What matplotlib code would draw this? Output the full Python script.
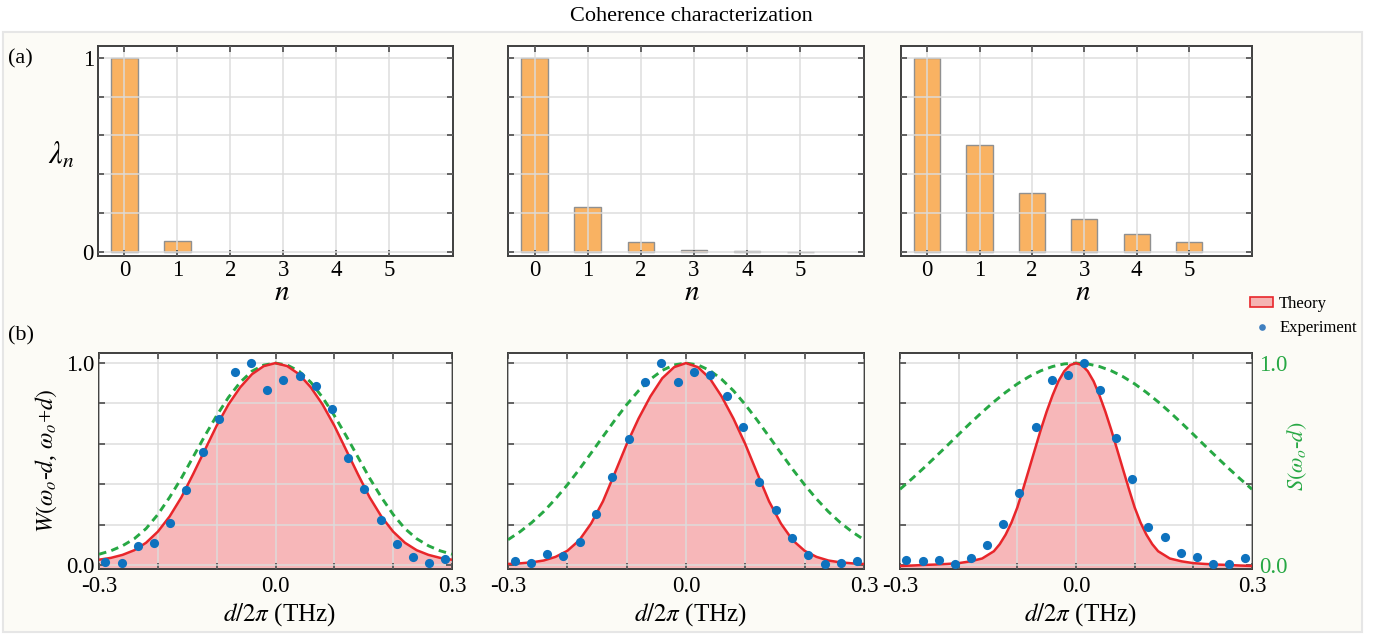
import matplotlib
matplotlib.use("Agg")
import matplotlib.pyplot as plt
from matplotlib.patches import Rectangle, Patch
from matplotlib.lines import Line2D

plt.rcParams["font.family"] = ["Liberation Serif", "DejaVu Serif"]
plt.rcParams["mathtext.fontset"] = "stix"

# ---------------- data ----------------
modes = [0, 1, 2, 3, 4, 5]
lambda_a = [1.0, 0.058, 0.0, 0.0, 0.0, 0.0]
lambda_b = [1.0, 0.230, 0.051, 0.012, 0.005, 0.003]
lambda_c = [1.0, 0.551, 0.306, 0.168, 0.093, 0.051]

d_theory = [-0.30, -0.28, -0.26, -0.24, -0.22, -0.20, -0.18, -0.16, -0.14, -0.12,
            -0.10, -0.08, -0.06, -0.04, -0.02, 0.00, 0.02, 0.04, 0.06, 0.08,
            0.10, 0.12, 0.14, 0.16, 0.18, 0.20, 0.22, 0.24, 0.26, 0.28, 0.30]
# finer sampling around the narrow peak of the third case
d_theory_c = [-0.30, -0.28, -0.26, -0.24, -0.22, -0.20, -0.18, -0.16, -0.14,
              -0.13, -0.12, -0.11, -0.10, -0.09, -0.08, -0.07, -0.06, -0.05, -0.04,
              -0.03, -0.02, -0.01, 0.00, 0.01, 0.02, 0.03, 0.04, 0.05, 0.06, 0.07,
              0.08, 0.09, 0.10, 0.11, 0.12, 0.13,
              0.14, 0.16, 0.18, 0.20, 0.22, 0.24, 0.26, 0.28, 0.30]

theory_a = [0.026, 0.035, 0.050, 0.073, 0.110, 0.165, 0.240, 0.335, 0.450, 0.570,
            0.690, 0.795, 0.880, 0.945, 0.985, 1.000, 0.985, 0.945, 0.880, 0.795,
            0.690, 0.570, 0.450, 0.335, 0.240, 0.165, 0.110, 0.073, 0.050, 0.035, 0.026]
theory_b = [0.005, 0.008, 0.013, 0.022, 0.040, 0.070, 0.122, 0.205, 0.315, 0.455,
            0.598, 0.725, 0.835, 0.925, 0.980, 1.000, 0.980, 0.925, 0.835, 0.725,
            0.598, 0.455, 0.315, 0.205, 0.122, 0.070, 0.040, 0.022, 0.013, 0.008, 0.005]
theory_c = [-0.005, -0.003, 0.000, 0.002, 0.005, 0.009, 0.018, 0.032, 0.068,
            0.103, 0.150, 0.210, 0.285, 0.378, 0.475, 0.573, 0.670, 0.760, 0.840,
            0.910, 0.960, 0.990, 1.000, 0.990, 0.960, 0.910, 0.840, 0.760, 0.670, 0.573,
            0.475, 0.378, 0.285, 0.210, 0.150, 0.103,
            0.068, 0.032, 0.018, 0.009, 0.005, 0.002, 0.000, -0.003, -0.005]

spectrum_a = [0.053, 0.070, 0.095, 0.130, 0.180, 0.250, 0.335, 0.430, 0.535, 0.640,
              0.740, 0.830, 0.905, 0.960, 0.990, 1.000, 0.990, 0.960, 0.905, 0.830,
              0.740, 0.640, 0.535, 0.430, 0.335, 0.250, 0.180, 0.130, 0.095, 0.070, 0.053]
spectrum_b = [0.125, 0.164, 0.210, 0.264, 0.327, 0.397, 0.473, 0.554, 0.636, 0.717,
              0.794, 0.863, 0.920, 0.964, 0.991, 1.000, 0.991, 0.964, 0.920, 0.863,
              0.794, 0.717, 0.636, 0.554, 0.473, 0.397, 0.327, 0.264, 0.210, 0.164, 0.125]
spectrum_c = [0.375, 0.426, 0.479, 0.534, 0.590, 0.647, 0.703, 0.757, 0.808, 0.855,
              0.897, 0.933, 0.962, 0.983, 0.996, 1.000, 0.996, 0.983, 0.962, 0.933,
              0.897, 0.855, 0.808, 0.757, 0.703, 0.647, 0.590, 0.534, 0.479, 0.426, 0.375]

d_exp = [-0.289, -0.2615, -0.234, -0.2065, -0.179, -0.1515, -0.124, -0.0965, -0.069, -0.0415,
         -0.014, 0.0135, 0.041, 0.0685, 0.096, 0.1235, 0.151, 0.1785, 0.206, 0.2335,
         0.261, 0.2885]
exp_a = [0.013, 0.012, 0.096, 0.111, 0.207, 0.372, 0.560, 0.725, 0.957, 1.000,
         0.868, 0.914, 0.937, 0.887, 0.775, 0.532, 0.378, 0.223, 0.106, 0.041,
         0.012, 0.030]
exp_b = [0.018, 0.011, 0.053, 0.045, 0.113, 0.254, 0.436, 0.623, 0.904, 1.000,
         0.907, 0.957, 0.943, 0.837, 0.683, 0.413, 0.272, 0.132, 0.051, 0.006,
         0.008, 0.018]
exp_c = [0.023, 0.022, 0.027, 0.007, 0.035, 0.101, 0.201, 0.355, 0.683, 0.915,
         0.943, 1.000, 0.869, 0.631, 0.424, 0.189, 0.140, 0.058, 0.037, 0.003,
         0.003, 0.035]

bar_sets = [lambda_a, lambda_b, lambda_c]
theory_x_sets = [d_theory, d_theory, d_theory_c]
theory_sets = [theory_a, theory_b, theory_c]
spectrum_sets = [spectrum_a, spectrum_b, spectrum_c]
exp_sets = [exp_a, exp_b, exp_c]

# ---------------- style ----------------
W, H = 1396, 635
BAR = "#F9B262"
BAR_EDGE = "#909090"
RED = "#E8262B"
PINK = (0.91, 0.15, 0.17, 0.33)
BLUE = "#0E72BE"
GREEN = "#27A844"
SPINE = "#3F3F3F"
TICK_FS = 16.5

fig = plt.figure(figsize=(W / 100, H / 100), dpi=100)
fig.patch.set_facecolor("white")
panel_bg = Rectangle((3 / W, 1 - 632 / H), 1359 / W, 600 / H,
                     transform=fig.transFigure, facecolor="#FCFBF6",
                     edgecolor="#E6E6E6", linewidth=1.5, zorder=-10)
fig.add_artist(panel_bg)


def px_rect(x0, y0, x1, y1):
    return [x0 / W, 1 - y1 / H, (x1 - x0) / W, (y1 - y0) / H]


def style_axes(ax):
    ax.set_facecolor("white")
    for s in ax.spines.values():
        s.set_color(SPINE)
        s.set_linewidth(1.4)
    ax.tick_params(direction="in", top=True, right=True, length=4, width=1.1,
                   color=SPINE, labelsize=TICK_FS, pad=3)
    ax.set_axisbelow(False)
    ax.grid(True, color="#DCDCDC", alpha=0.75, linewidth=1.4)


top_boxes = [(98, 46, 453, 256), (508, 46, 864, 256), (901, 46, 1252, 256)]
bot_boxes = [(99, 353, 452, 569), (508, 353, 864, 569), (900, 353, 1252, 569)]

# top row: mode weights
for i, box in enumerate(top_boxes):
    ax = fig.add_axes(px_rect(*box))
    style_axes(ax)
    values = bar_sets[i]
    edges = [BAR_EDGE if v > 0 else "none" for v in values]
    ax.bar(modes, values, width=0.5, color=BAR, edgecolor=edges,
           linewidth=1.0, zorder=1)
    ax.set_xlim(-0.5, 6.2)
    ax.set_ylim(-0.02, 1.06)
    ax.set_xticks(modes)
    ax.set_xticklabels([str(m) for m in modes])
    ax.set_yticks([0, 0.2, 0.4, 0.6, 0.8, 1.0])
    ax.tick_params(axis="x", pad=3)
    if i == 0:
        ax.set_yticklabels(["0", "", "", "", "", "1"])
    else:
        ax.set_yticklabels([""] * 6)
    cx = (box[0] + box[2]) / 2 + 6
    fig.text(cx / W, 1 - 300 / H, r"$n$", fontsize=21, ha="center", va="baseline")

# bottom row: correlation cuts
for i, box in enumerate(bot_boxes):
    ax = fig.add_axes(px_rect(*box))
    style_axes(ax)
    ax.fill_between(theory_x_sets[i], theory_sets[i], -0.1, color=PINK,
                    linewidth=0, zorder=1)
    ax.plot(d_theory, spectrum_sets[i], color=GREEN, linewidth=2.1,
            linestyle=(0, (2.6, 1.8)), zorder=3)
    ax.plot(theory_x_sets[i], theory_sets[i], color=RED, linewidth=1.8, zorder=3.5)
    ax.plot(d_exp, exp_sets[i], linestyle="none", marker="o", markersize=6.6,
            color=BLUE, markeredgewidth=0, zorder=4)
    ax.set_xlim(-0.3, 0.3)
    ax.set_ylim(-0.02, 1.05)
    ax.set_xticks([-0.3, -0.2, -0.1, 0.0, 0.1, 0.2, 0.3])
    ax.set_xticklabels(["-0.3", "", "", "0.0", "", "", "0.3"])
    ax.set_yticks([0, 0.2, 0.4, 0.6, 0.8, 1.0])
    ax.tick_params(axis="x", pad=5)
    if i == 0:
        ax.set_yticklabels(["0.0", "", "", "", "", "1.0"])
    elif i == 2:
        ax.set_yticklabels(["0.0", "", "", "", "", "1.0"])
        ax.tick_params(axis="y", labelleft=False, labelright=True,
                       labelcolor=GREEN, pad=5)
    else:
        ax.set_yticklabels([""] * 6)
    cx = (box[0] + box[2]) / 2 + 4
    fig.text(cx / W, 1 - 621 / H, r"$d/2\pi$ (THz)", fontsize=18,
             ha="center", va="baseline")

# labels and annotations
fig.text(691 / W, 1 - 21 / H, "Coherence characterization", fontsize=16,
         ha="center", va="baseline")
fig.text(8 / W, 1 - 63 / H, "(a)", fontsize=16, ha="left", va="baseline")
fig.text(8 / W, 1 - 340 / H, "(b)", fontsize=16, ha="left", va="baseline")
fig.text(61 / W, 1 - 156 / H, r"$\lambda_{n}$", fontsize=22, ha="center", va="center")
fig.text(46 / W, 1 - 461 / H, r"$W(\omega_o$-$d$, $\omega_o$+$d)$", fontsize=17,
         rotation=90, ha="center", va="center")
fig.text(1297 / W, 1 - 456 / H, r"$S(\omega_o$-$d)$", fontsize=16, color=GREEN,
         rotation=90, ha="center", va="center")

handles = [Patch(facecolor=PINK, edgecolor=RED, linewidth=1.2, label="Theory"),
           Line2D([], [], linestyle="none", marker="o", markersize=4.8,
                  color="#3F7FC0", markeredgewidth=0, label="Experiment")]
fig.legend(handles=handles, loc="upper left", bbox_to_anchor=(1250 / W, 1 - 296 / H),
           frameon=False, fontsize=12, handlelength=1.4, handleheight=0.5,
           handletextpad=0.35, labelspacing=0.5, borderpad=0, borderaxespad=0)

fig.savefig("out.png", dpi=100, facecolor=fig.get_facecolor())
